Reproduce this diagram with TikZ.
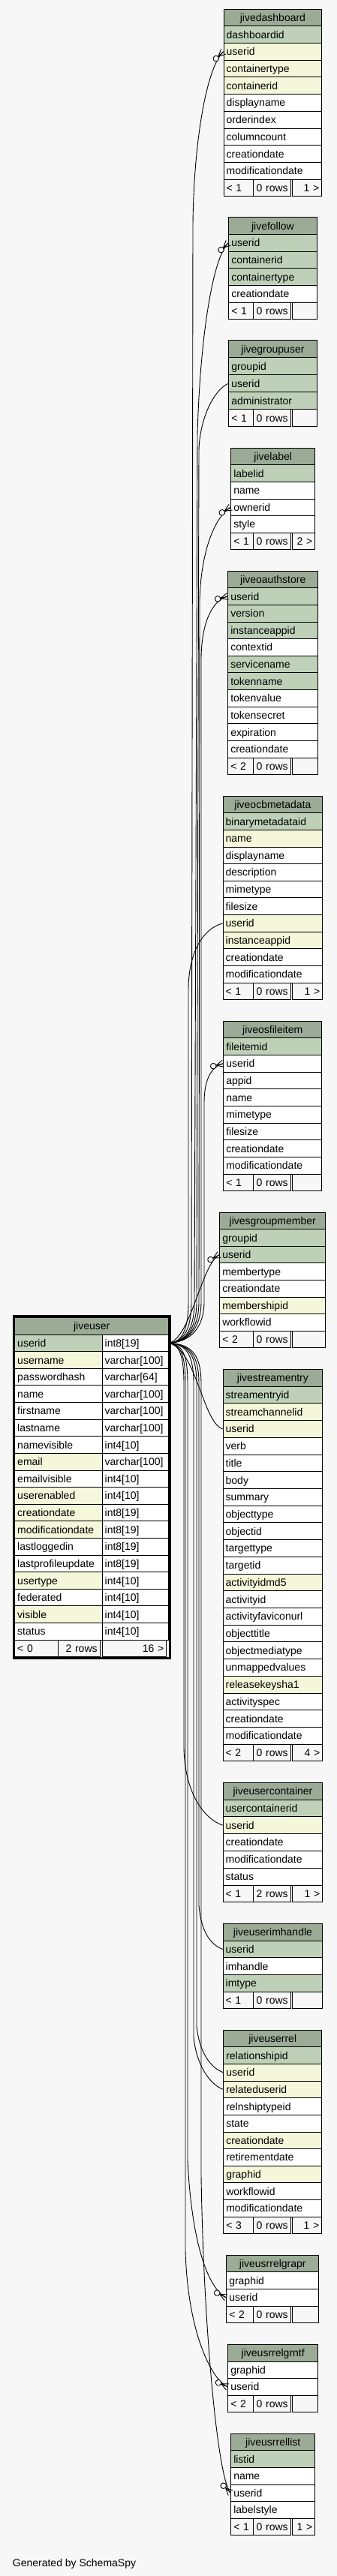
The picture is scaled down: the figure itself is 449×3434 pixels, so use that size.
\documentclass[tikz,border=0pt]{standalone}
\usepackage{fontspec}
\setmainfont{Liberation Sans}
\usetikzlibrary{decorations.markings}
\definecolor{bgc}{HTML}{F7F7F7}
\definecolor{hdrc}{HTML}{9BAB96}
\definecolor{pkc}{HTML}{BED1B8}
\definecolor{idxc}{HTML}{F4F7DA}
\definecolor{ftc}{HTML}{F7F7F7}
\newcommand\myfs{\fontsize{14}{16}\selectfont}
\def\sepA{337.3}\def\sepB{389.3}
% #1 id, #2 x left, #3 x right, #4 top, #5 row height, #6 title, #7 rows, #8 footer a/b/c
\newcommand\tbl[8]{%
  \pgfmathsetmacro\tw{#3-#2-7}%
  \node[cell, fill=hdrc, align=center, text width=\tw pt, minimum height=#5pt] (#1-0) at (#2,#4) {#6};
  \foreach \rc/\rt [count=\k] in {#7} {%
    \node[cell, fill=\rc, text width=\tw pt, minimum height=#5pt] (#1-\k) at (#2,{#4+\k*#5}) {\rt};
    \xdef\nrows{\k}%
  }%
  \pgfmathsetmacro\fy{#4+(\nrows+1)*#5}%
  \pgfmathsetmacro\wa{\sepA-#2-7}%
  \pgfmathsetmacro\wb{\sepB-\sepA-9.5}%
  \pgfmathsetmacro\wc{#3-\sepB-7}%
  \foreach \fa/\fb/\fc in {#8} {%
    \node[cell, fill=ftc, text width=\wa pt, minimum height=#5pt] (#1-fa) at (#2,\fy) {\fa};
    \node[cell, fill=ftc, align=right, text width=\wb pt, minimum height=#5pt] (#1-fb) at (\sepA,\fy) {\fb\hspace*{2.5pt}};
    \node[cell, fill=ftc, align=right, text width=\wc pt, minimum height=#5pt] (#1-fc) at (\sepB,\fy) {\mbox{\fc}\hspace*{1.5pt}};
  }%
}
\begin{document}
\begin{tikzpicture}[x=1pt,y=-1pt,
  cell/.style={draw=black, line width=0.9pt, inner xsep=3.5pt, inner ysep=0pt, text height=11.5pt, text depth=1.5pt, align=left, font=\myfs, anchor=north west},
  crowend/.style={postaction={decorate}, decoration={markings, mark=at position 1 with {%
      \draw[line width=0.9pt] (-9.5pt,0pt) -- (0pt,0pt) (-9.5pt,0pt) -- (0pt,4.5pt) (-9.5pt,0pt) -- (0pt,-4.5pt);
      \draw[line width=0.9pt, fill=bgc] (-13.5pt,0pt) circle (3.8pt);}}},
  conn/.style={line width=0.9pt, crowend}]
\useasboundingbox (0,0) rectangle (449,3434);
\fill[bgc] (0,0) rectangle (449,3434);

\tbl{jd}{297.7}{428.3}{11.7}{22.69}{jivedashboard}{pkc/dashboardid, idxc/userid, idxc/containertype, idxc/containerid, white/displayname, white/orderindex, white/columncount, white/creationdate, white/modificationdate}{< 1/0 rows/1 >}
\tbl{jf}{304.3}{421.7}{289.3}{22.67}{jivefollow}{pkc/userid, pkc/containerid, pkc/containertype, white/creationdate}{< 1/0 rows/{}}
\tbl{jg}{304.3}{421.7}{453.3}{23.0}{jivegroupuser}{pkc/groupid, pkc/userid, pkc/administrator}{< 1/0 rows/{}}
\tbl{jl}{307.3}{419.3}{596.7}{22.6}{jivelabel}{pkc/labelid, white/name, white/ownerid, white/style}{< 1/0 rows/2 >}
\tbl{jo}{303.3}{423.3}{760.7}{22.63}{jiveoauthstore}{pkc/userid, pkc/version, pkc/instanceappid, white/contextid, pkc/servicename, pkc/tokenname, white/tokenvalue, white/tokensecret, white/expiration, white/creationdate}{< 2/0 rows/{}}
\tbl{jm}{296.7}{429.3}{1060.7}{22.63}{jiveocbmetadata}{pkc/binarymetadataid, idxc/name, white/displayname, white/description, white/mimetype, white/filesize, idxc/userid, idxc/instanceappid, white/creationdate, white/modificationdate}{< 1/0 rows/1 >}
\tbl{jfi}{297.3}{428.3}{1360.7}{22.66}{jiveosfileitem}{pkc/fileitemid, white/userid, white/appid, white/name, white/mimetype, white/filesize, white/creationdate, white/modificationdate}{< 1/0 rows/{}}
\tbl{jsg}{292.3}{433.3}{1615.7}{22.575}{jivesgroupmember}{pkc/groupid, pkc/userid, white/membertype, white/creationdate, idxc/membershipid, white/workflowid}{< 2/0 rows/{}}
\tbl{jse}{296.7}{429.3}{1825}{22.71}{jivestreamentry}{pkc/streamentryid, idxc/streamchannelid, idxc/userid, white/verb, white/title, white/body, white/summary, white/objecttype, white/objectid, white/targettype, white/targetid, idxc/activityidmd5, white/activityid, white/activityfaviconurl, white/objecttitle, white/objectmediatype, white/unmappedvalues, idxc/releasekeysha1, white/activityspec, white/creationdate, white/modificationdate}{< 2/0 rows/4 >}
\tbl{juc}{296.7}{429.3}{2375.7}{22.8}{jiveusercontainer}{pkc/usercontainerid, idxc/userid, white/creationdate, white/modificationdate, white/status}{< 1/2 rows/1 >}
\tbl{jui}{296.7}{429.3}{2564}{22.66}{jiveuserimhandle}{pkc/userid, white/imhandle, pkc/imtype}{< 1/0 rows/{}}
\tbl{jur}{297.3}{428.3}{2705.7}{22.63}{jiveuserrel}{pkc/relationshipid, idxc/userid, idxc/relateduserid, white/relnshiptypeid, white/state, idxc/creationdate, white/retirementdate, idxc/graphid, white/workflowid, white/modificationdate}{< 3/0 rows/1 >}
\tbl{jga}{301.3}{424.3}{3005.7}{22.65}{jiveusrrelgrapr}{white/graphid, white/userid}{< 2/0 rows/{}}
\tbl{jgn}{303.3}{423.3}{3125}{22.575}{jiveusrrelgrntf}{white/graphid, white/userid}{< 2/0 rows/{}}
\tbl{jrl}{307.3}{419.3}{3243.7}{22.6}{jiveusrrellist}{pkc/listid, white/name, white/userid, white/labelstyle}{< 1/0 rows/1 >}

% jiveuser (two columns)
\node[cell, fill=hdrc, align=center, text width=198pt, minimum height=22.615pt] (ju-0) at (19.3,1756) {jiveuser};
\foreach \rc/\rn/\rt [count=\k] in {pkc/userid/int8[19], idxc/username/varchar[100], white/passwordhash/varchar[64], white/name/varchar[100], white/firstname/varchar[100], white/lastname/varchar[100], white/namevisible/int4[10], idxc/email/varchar[100], white/emailvisible/int4[10], idxc/userenabled/int4[10], idxc/creationdate/int8[19], idxc/modificationdate/int8[19], white/lastloggedin/int8[19], white/lastprofileupdate/int8[19], idxc/usertype/int4[10], white/federated/int4[10], idxc/visible/int4[10], white/status/int4[10]} {
  \node[cell, fill=\rc, text width=109.4pt, minimum height=22.615pt] (ju-\k-n) at (19.3,{1756+\k*22.615}) {\rn};
  \node[cell, fill=white, text width=81.6pt, minimum height=22.615pt] (ju-\k-t) at (135.7,{1756+\k*22.615}) {\rt};
}
\node[cell, fill=ftc, text width=51pt, minimum height=22.615pt] (ju-fa) at (19.3,2185.7) {< 0};
\node[cell, fill=ftc, align=right, text width=48.4pt, minimum height=22.615pt] (ju-fb) at (77.3,2185.7) {2 rows\hspace*{3pt}};
\node[cell, fill=ftc, align=right, text width=78.6pt, minimum height=22.615pt] (ju-fc) at (135.7,2185.7) {16 >\hspace*{3pt}};

% connectors going up
\draw[conn] (ju-1-t.east) .. controls (245,1789) and (255,1772) .. (255,1735) -- (257,300) .. controls (258,190) and (275,90) .. (jd-2.west);
\draw[conn] (ju-1-t.east) .. controls (247,1789) and (259,1772) .. (259,1735) -- (263,580) .. controls (266,460) and (282,345) .. (jf-1.west);
\draw[conn] (ju-1-t.east) .. controls (248,1789) and (262,1772) .. (262,1735) -- (265,600) .. controls (266,560) and (284,520) .. (jg-2.west);
\draw[conn] (ju-1-t.east) .. controls (249,1789) and (265,1772) .. (265,1735) -- (266,800) .. controls (268,730) and (288,688) .. (jl-3.west);
\draw[conn] (ju-1-t.east) .. controls (250,1789) and (268,1772) .. (268,1735) -- (268,880) .. controls (268,830) and (283,800) .. (jo-1.west);
\draw[conn] (ju-1-t.east) .. controls (243,1789) and (251,1772) .. (251,1735) -- (251,1320) .. controls (251,1270) and (270,1238) .. (jm-7.west);
\draw[conn] (ju-1-t.east) .. controls (252,1789) and (272,1772) .. (272,1735) -- (272,1470) .. controls (272,1440) and (281,1422) .. (jfi-2.west);
\draw[conn] (ju-1-t.east) .. controls (255,1782) and (268,1686) .. (jsg-2.west);
% connectors going down
\draw[conn] (ju-1-t.east) .. controls (262,1800) and (270,1896) .. (jse-3.west);
\draw[conn] (ju-1-t.east) .. controls (238,1792) and (245,1805) .. (245,1845) -- (245,2330) .. controls (246,2390) and (272,2425) .. (juc-2.west);
\draw[conn] (ju-1-t.east) .. controls (252,1792) and (265,1805) .. (265,1845) -- (265,2540) .. controls (268,2575) and (280,2592) .. (jui-1.west);
\draw[conn] (ju-1-t.east) .. controls (250,1792) and (262,1805) .. (262,1845) -- (262,2700) .. controls (265,2735) and (280,2756) .. (jur-2.west);
\draw[conn] (ju-1-t.east) .. controls (248,1792) and (258,1805) .. (258,1845) -- (258,2715) .. controls (261,2750) and (278,2778) .. (jur-3.west);
\draw[conn] (ju-1-t.east) .. controls (243,1792) and (250,1805) .. (250,1845) -- (250,2880) .. controls (256,3000) and (280,3052) .. (jga-2.west);
\draw[conn] (ju-1-t.east) .. controls (240,1792) and (247,1805) .. (247,1845) -- (247,3000) .. controls (250,3110) and (282,3172) .. (jgn-2.west);
\draw[conn] (ju-1-t.east) .. controls (255,1792) and (268,1805) .. (268,1845) -- (268,2900) .. controls (271,3100) and (290,3306) .. (jrl-3.west);

% thick frame of the focused table
\draw[line width=2.8pt] (18,1754.2) rectangle (226.2,2210.2);

\node[font=\myfs, anchor=base west, inner sep=0pt] (gen) at (16.7,3421.7) {Generated by SchemaSpy};
\end{tikzpicture}
\end{document}
